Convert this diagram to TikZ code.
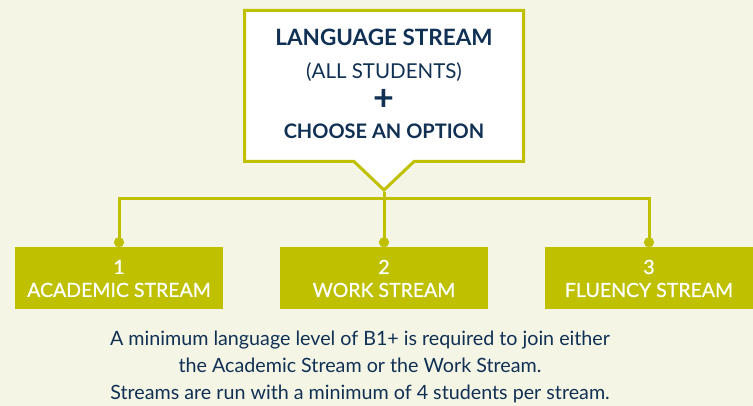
\documentclass[tikz,border=0pt]{standalone}
\usepackage{fontspec}
\setmainfont{Lato}
\usepackage{tikz}
\usetikzlibrary{arrows.meta, positioning, shapes.callouts}
\definecolor{olive}{RGB}{190,192,0}
\definecolor{cream}{RGB}{244,245,229}
\definecolor{navy}{RGB}{16,48,84}

\begin{document}
\begin{tikzpicture}[x=1pt, y=-1pt,
    streambox/.style={rectangle, fill=olive, text=white, minimum width=208pt, minimum height=62pt,
        inner sep=0pt, align=center, font=\fontsize{19.5}{23}\selectfont\addfontfeature{FakeBold=0.6}},
    link/.style={draw=olive, line width=3pt, -{Circle[length=10pt, width=10pt]}}]
        \fill[cream] (0,0) rectangle (753,406);
        \useasboundingbox (0,0) rectangle (753,406);
        \node (lang) [rectangle callout, draw=olive, line width=3pt, fill=white,
            minimum width=279pt, minimum height=151pt, inner sep=0pt,
            callout absolute pointer={(384,190)}, callout pointer width=60pt,
            align=center, text=navy, font=\fontsize{20.5}{31}\selectfont] at (384,86)
            {{\fontsize{22.5}{31}\selectfont\bfseries LANGUAGE STREAM}\\[2pt]
             (ALL STUDENTS)\\[1pt]
             {\fontsize{36}{31}\selectfont\bfseries +}\\[-3pt]
             {\fontsize{20}{31}\selectfont\bfseries CHOOSE AN OPTION}\\[-27pt]\mbox{}};
        \node (academic) [streambox] at (119,278.5) {1\\ACADEMIC STREAM};
        \node (work) [streambox] at (384,278.5) {2\\WORK STREAM};
        \node (fluency) [streambox] at (649,278.5) {3\\FLUENCY STREAM};
        \draw[link] (lang.pointer) -- ++(0,6) -| (academic.north);
        \draw[link] (lang.pointer) -- ++(0,6) -| (fluency.north);
        \draw[link] (lang.pointer) -- (work.north);
        \node (note) [align=center, text=navy, font=\fontsize{19.7}{27}\selectfont] at (360,367)
            {A minimum language level of B1+ is required to join either\\
             the Academic Stream or the Work Stream.\\
             Streams are run with a minimum of 4 students per stream.};
    \end{tikzpicture}
\end{document}
